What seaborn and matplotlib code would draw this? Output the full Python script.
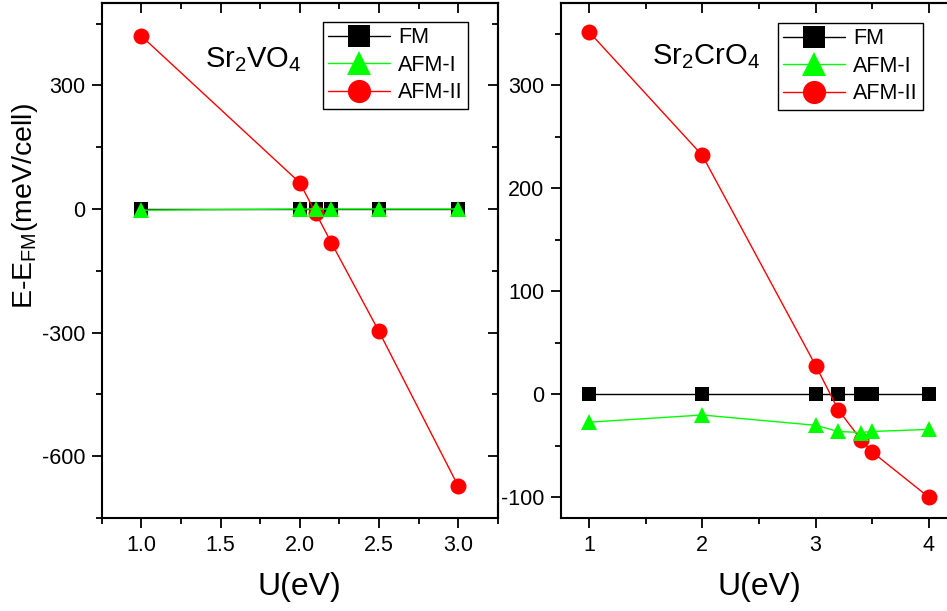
import matplotlib
matplotlib.use("Agg")
import matplotlib.pyplot as plt
from matplotlib.ticker import MultipleLocator
import seaborn as sns
import pandas as pd

# ---- data: Sr2VO4 ----
u_v = [1.0, 2.0, 2.1, 2.2, 2.5, 3.0]
fm_v = [0, 0, 0, 0, 0, 0]
afm1_v = [-3, 0, 0, 0, 0, 0]
afm2_v = [420, 64, -9, -82, -297, -672]

# ---- data: Sr2CrO4 ----
u_c = [1, 2, 3, 3.2, 3.4, 3.5, 4]
fm_c = [0, 0, 0, 0, 0, 0, 0]
afm1_c = [-27, -20, -30, -36, -37, -36, -34]
afm2_c = [352, 232, 28, -15, -44, -56, -100]

series_names = ["FM", "AFM-I", "AFM-II"]
titles = ["Sr$_2$VO$_4$", "Sr$_2$CrO$_4$"]

sns.set_style("ticks")
plt.rcParams["font.family"] = ["Liberation Sans", "DejaVu Sans"]
plt.rcParams["mathtext.fontset"] = "custom"
plt.rcParams["mathtext.rm"] = "Liberation Sans"
plt.rcParams["mathtext.it"] = "Liberation Sans"
plt.rcParams["axes.linewidth"] = 1.5
plt.rcParams["axes.edgecolor"] = "black"
plt.rcParams["xtick.color"] = "black"
plt.rcParams["ytick.color"] = "black"
plt.rcParams["axes.labelcolor"] = "black"
plt.rcParams["text.color"] = "black"
plt.rcParams["axes.unicode_minus"] = False

W, H = 947, 611
fig = plt.figure(figsize=(W / 100, H / 100), dpi=100)

def px(x0, y0, x1, y1):
    return [x0 / W, 1 - y1 / H, (x1 - x0) / W, (y1 - y0) / H]

ax1 = fig.add_axes(px(101.7, 3, 497.7, 518))
ax2 = fig.add_axes(px(560.7, 3, 957.3, 518))

styles = {
    "FM": dict(color="black", marker="s"),
    "AFM-I": dict(color="#00ff00", marker="^"),
    "AFM-II": dict(color="#ff0000", marker="o"),
}
msize = {"s": 10.5, "^": 12, "o": 11.5}

def draw(ax, u, fm, a1, a2):
    df = pd.DataFrame({"U": u, "FM": fm, "AFM-I": a1, "AFM-II": a2})
    order = [("FM", 3), ("AFM-II", 4), ("AFM-I", 5)]
    for name, z in order:
        st = styles[name]
        sns.lineplot(data=df, x="U", y=name, ax=ax, color=st["color"],
                     marker=st["marker"], markersize=msize[st["marker"]],
                     markeredgewidth=0, linewidth=1.0, label=name,
                     zorder=z, legend=False, estimator=None, sort=False)

draw(ax1, u_v, fm_v, afm1_v, afm2_v)
draw(ax2, u_c, fm_c, afm1_c, afm2_c)

ax1.set_xlim(0.75, 3.25)
ax1.set_ylim(-750, 500)
ax1.xaxis.set_major_locator(MultipleLocator(0.5))
ax1.xaxis.set_minor_locator(MultipleLocator(0.25))
ax1.yaxis.set_major_locator(MultipleLocator(300))
ax1.yaxis.set_minor_locator(MultipleLocator(150))
ax1.xaxis.set_major_formatter(matplotlib.ticker.FormatStrFormatter("%.1f"))

ax2.set_xlim(0.75, 4.25)
ax2.set_ylim(-120, 380)
ax2.xaxis.set_major_locator(MultipleLocator(1))
ax2.xaxis.set_minor_locator(MultipleLocator(0.5))
ax2.yaxis.set_major_locator(MultipleLocator(100))
ax2.yaxis.set_minor_locator(MultipleLocator(50))

for ax, xs, ys in [(ax1, (0.5, 0.25), (300, 150)), (ax2, (1, 0.5), (100, 50))]:
    for s in ax.spines.values():
        s.set_visible(True)
        s.set_linewidth(1.5)
    ax.tick_params(which="major", direction="out", length=7, width=1.3,
                   labelsize=15.5, pad=5)
    ax.tick_params(which="minor", direction="out", length=4, width=1.3)
    top = ax.secondary_xaxis("top")
    top.xaxis.set_major_locator(MultipleLocator(xs[0]))
    top.xaxis.set_minor_locator(MultipleLocator(xs[1]))
    top.tick_params(which="major", direction="in", length=7, width=1.3, labeltop=False)
    top.tick_params(which="minor", direction="in", length=4, width=1.3)
    right = ax.secondary_yaxis("right")
    right.yaxis.set_major_locator(MultipleLocator(ys[0]))
    right.yaxis.set_minor_locator(MultipleLocator(ys[1]))
    right.tick_params(which="major", direction="in", length=7, width=1.3, labelright=False)
    right.tick_params(which="minor", direction="in", length=4, width=1.3)
    ax.set_xlabel("U(eV)", fontsize=23, labelpad=12)

ax1.set_ylabel(r"E-E$_{\mathrm{FM}}$(meV/cell)", fontsize=20.5)
ax1.yaxis.set_label_coords(-0.155, 0.606)
ax2.set_ylabel("")

ax1.text(0.261, 0.876, titles[0], transform=ax1.transAxes, fontsize=21, va="baseline")
ax2.text(0.230, 0.882, titles[1], transform=ax2.transAxes, fontsize=21, va="baseline")

for ax, anchor in [(ax1, (468 / W, 1 - 22 / H)), (ax2, (923 / W, 1 - 23 / H))]:
    handles, labels = ax.get_legend_handles_labels()
    hmap = dict(zip(labels, handles))
    leg = ax.legend([hmap[n] for n in series_names], series_names,
                    loc="upper right", bbox_to_anchor=anchor,
                    bbox_transform=fig.transFigure, borderaxespad=0,
                    fontsize=15.5, markerscale=1.45, handlelength=2.9,
                    handletextpad=0.35, labelspacing=0.3, borderpad=0.25,
                    fancybox=False, framealpha=1, edgecolor="black")
    leg.get_frame().set_linewidth(1.0)

fig.savefig("out.png", dpi=100)
